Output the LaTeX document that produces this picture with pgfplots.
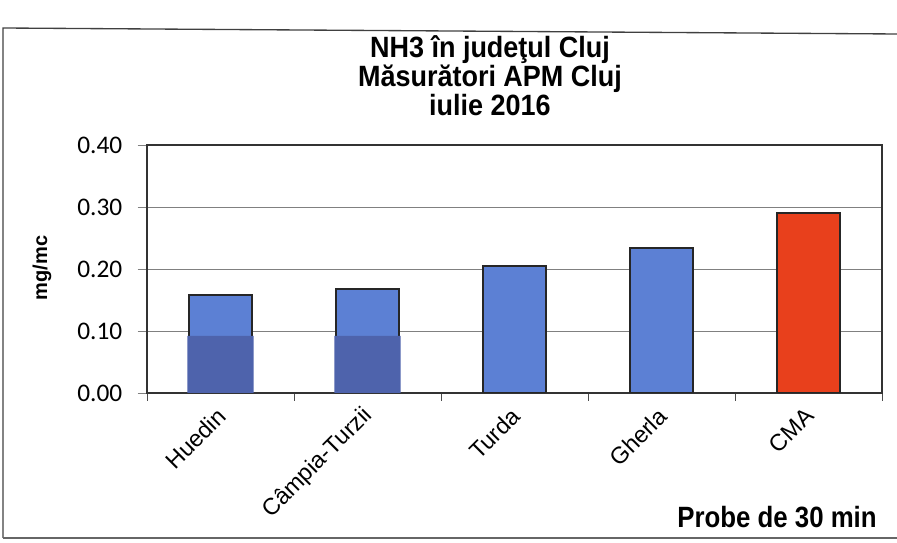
\documentclass[border=0pt]{standalone}
\usepackage{pgfplots}
\pgfplotsset{compat=1.18}
\usepackage{fontspec}
\setmainfont{Liberation Sans}
\newfontfamily\calib{Carlito}
\definecolor{barblue}{RGB}{92,128,212}
\definecolor{patchblue}{RGB}{78,99,172}
\definecolor{barred}{RGB}{232,64,28}
\begin{document}
\begin{tikzpicture}[x=0.75pt,y=0.75pt]
\draw[black!75, line width=1pt] (3,5) -- (3,515) -- (897,509);
\draw[black!60, line width=1pt] (3,5) -- (897,5);
\node[align=center, font=\bfseries\fontsize{22}{21.75}\selectfont, anchor=center, xscale=0.92] at (490,467) {NH3 în judeţul Cluj\\Măsurători APM Cluj\\iulie 2016};
\node[rotate=90, font=\bfseries\fontsize{15}{17}\selectfont] at (42,275) {mg/mc};
\node[font=\bfseries\fontsize{22}{24}\selectfont, xscale=0.88] at (777,26) {Probe de 30 min};
\begin{axis}[
  at={(110.25pt,112.5pt)}, anchor=south west,
  scale only axis, width=551.25pt, height=186pt,
  xmin=-0.5, xmax=4.5, ymin=0, ymax=0.4,
  ytick={0,0.1,0.2,0.3,0.4},
  ymajorgrids, grid style={black!50, line width=0.7pt},
  axis line style={black!80, line width=0.8pt},
  ytick pos=left, xtick pos=bottom, tick align=outside,
  major tick length=7pt,
  xtick={0,1,2,3,4},
  xticklabels={Huedin, Câmpia-Turzii, Turda, Gherla, CMA},
  major x tick style={draw=none},
  minor xtick={-0.5,0.5,1.5,2.5,3.5,4.5},
  minor x tick style={black!70},
  minor tick length=6pt,
  x tick label style={rotate=45, anchor=east, font=\fontsize{17.5}{19}\selectfont, xshift=-1pt, yshift=-6pt},
  y tick label style={font=\calib\fontsize{19}{21}\selectfont, xshift=-8pt, /pgf/number format/.cd, fixed, fixed zerofill, precision=2, assume math mode=true},
  ybar, bar shift=0pt, bar width=0.43,
]
\addplot[fill=barblue, draw=black!85, line width=1.4pt] coordinates {(0,0.158) (1,0.168) (2,0.205) (3,0.234)};
\addplot[fill=barred, draw=black!85, line width=1.4pt] coordinates {(4,0.290)};
\addplot[fill=patchblue, draw=none, bar width=0.45] coordinates {(0,0.092) (1,0.092)};
\end{axis}
\pgfresetboundingbox
\path (0,0) rectangle (897,543);
\end{tikzpicture}
\end{document}
